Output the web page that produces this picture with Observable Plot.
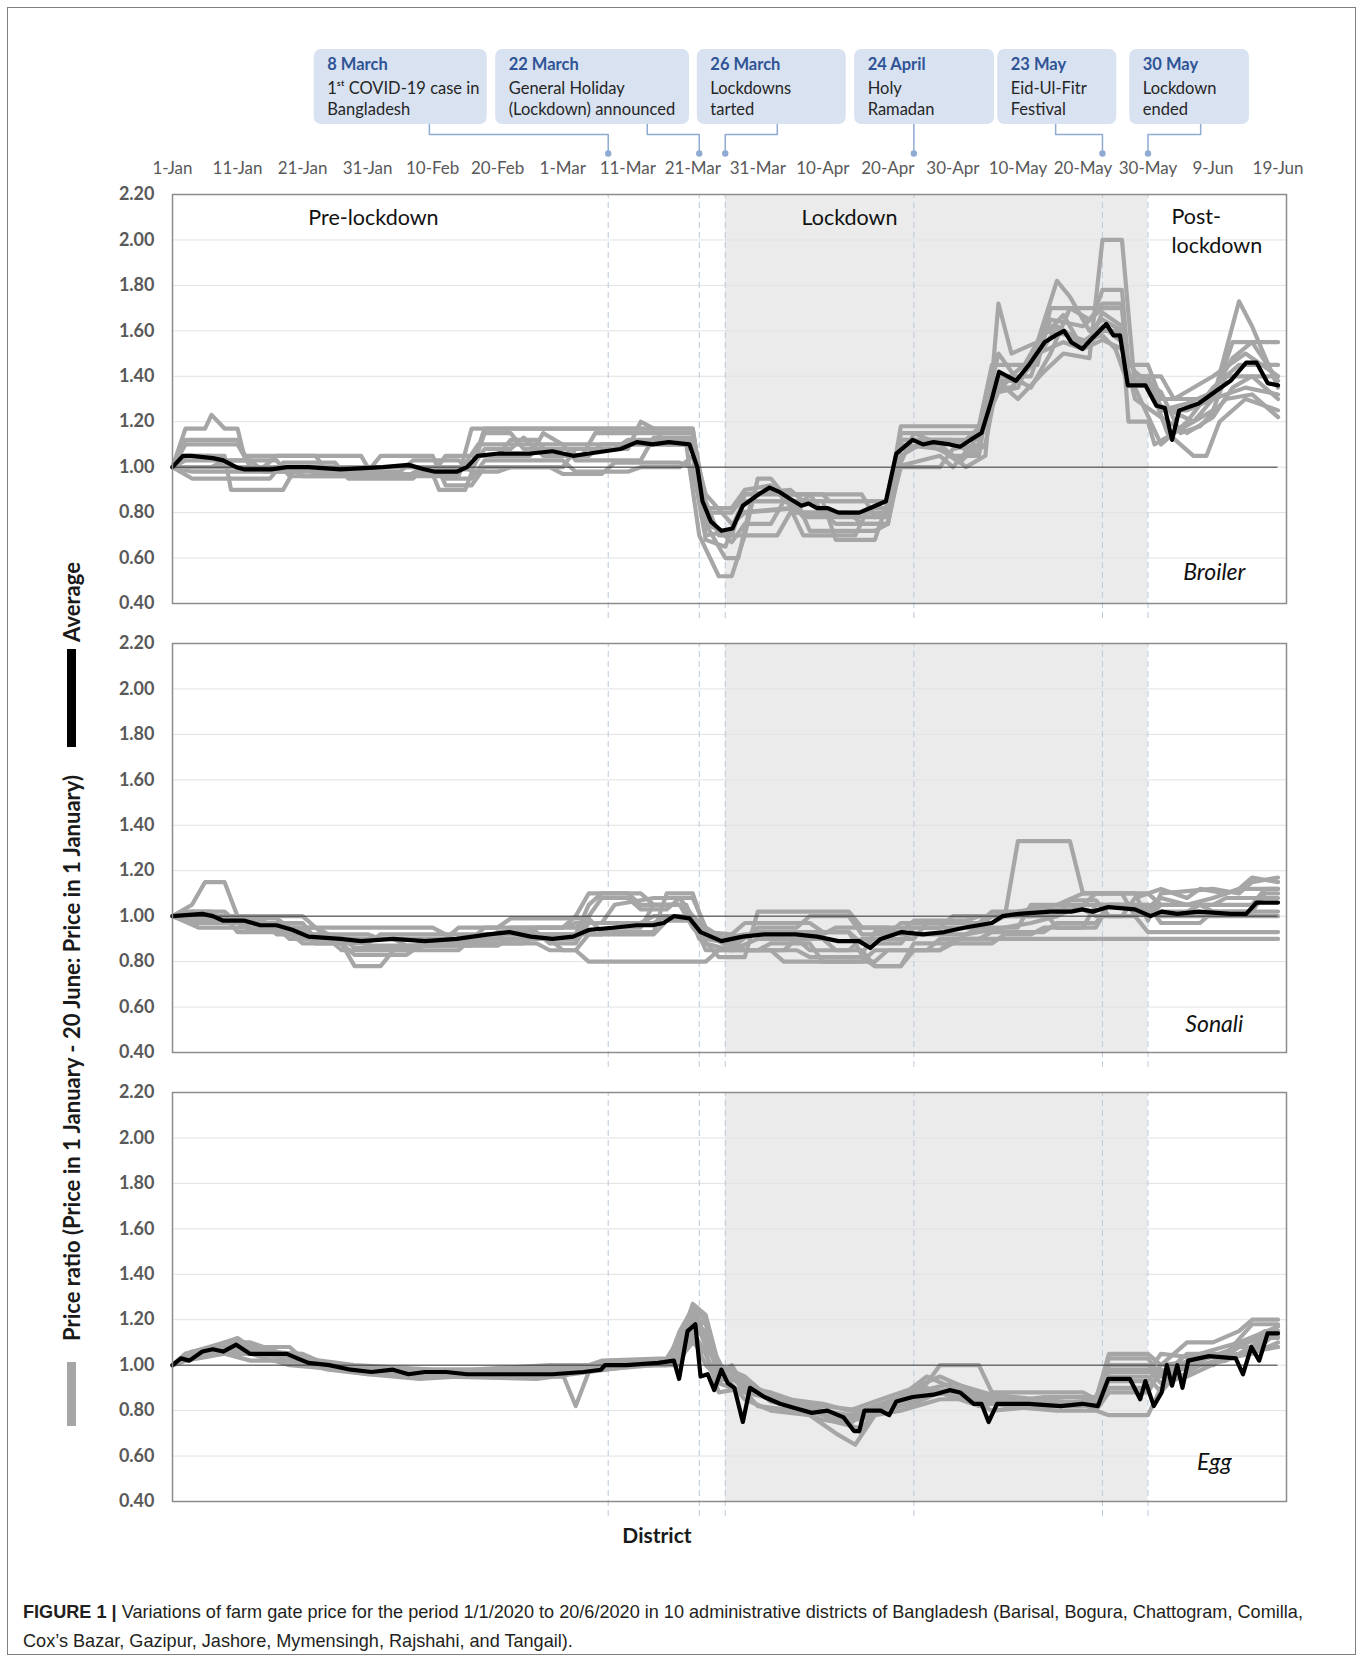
<!DOCTYPE html>
<html><head><meta charset="utf-8">
<script src="https://cdn.jsdelivr.net/npm/d3@7"></script>
<script src="https://cdn.jsdelivr.net/npm/@observablehq/plot@0.6"></script>
<style>
body{margin:0;background:#fff;}
#fig{position:relative;width:1362px;height:1659px;background:#fff;font-family:Lato,sans-serif;overflow:hidden}
#border{position:absolute;left:7px;top:7px;width:1349px;height:1648px;border:1px solid #7f7f7f;box-sizing:border-box}
.abs{position:absolute;left:0}
#xtitle{position:absolute;left:0;width:1314px;top:1522px;text-align:center;font:bold 21px Lato,sans-serif;color:#1a1a1a}
#caption{position:absolute;left:23px;top:1597px;font-family:"Liberation Sans",Arial,sans-serif;font-size:19px;line-height:29px;color:#231f20;white-space:nowrap;transform:scaleX(0.953);transform-origin:0 0}
</style></head><body>
<div id="fig">
<div id="border"></div>
<div id="ann" class="abs" style="top:0"></div>
<div id="p0" class="abs" style="top:192px"></div>
<div id="p1" class="abs" style="top:641px"></div>
<div id="p2" class="abs" style="top:1090px"></div>
<div id="ylab" class="abs" style="top:0"></div>
<div id="xtitle">District</div>
<div id="caption"><b>FIGURE 1 |</b> Variations of farm gate price for the period 1/1/2020 to 20/6/2020 in 10 administrative districts of Bangladesh (Barisal, Bogura, Chattogram, Comilla,<br>Cox’s Bazar, Gazipur, Jashore, Mymensingh, Rajshahi, and Tangail).</div>
</div>
<script>
// ---------- DATA ----------
const districtNames = ["Barisal","Bogura","Chattogram","Comilla","Cox's Bazar","Gazipur","Jashore","Mymensingh","Rajshahi","Tangail"];
const panelNames = ["Broiler","Sonali","Egg"];
const tickDays = [0,10,20,30,40,50,60,70,80,90,100,110,120,130,140,150,160,170];
const yTicks = [0.4,0.6,0.8,1.0,1.2,1.4,1.6,1.8,2.0,2.2];
const lockdownStartDay = 85, lockdownEndDay = 150;
const events = [
  {day:67,  title:"8 March",  text:"1ˢᵗ COVID-19 case in\nBangladesh"},
  {day:81,  title:"22 March", text:"General Holiday\n(Lockdown) announced"},
  {day:85,  title:"26 March", text:"Lockdowns\ntarted"},
  {day:114, title:"24 April", text:"Holy\nRamadan"},
  {day:143, title:"23 May",   text:"Eid-Ul-Fitr\nFestival"},
  {day:150, title:"30 May",   text:"Lockdown\nended"}
];
const phaseLabels = ["Pre-lockdown","Lockdown","Post-\nlockdown"];

// [day offset from 1 January, price ratio]
const broilerAverage = [[0,1.00],[1.6,1.05],[2.9,1.05],[6.2,1.04],[7.8,1.03],[9.8,1.00],[11.1,0.99],[15.2,0.99],[17.6,1.00],[20.9,1.00],[25.8,0.99],[32.3,1.00],[36.3,1.01],[38.8,0.99],[40.4,0.98],[43.7,0.98],[45.3,1.00],[46.9,1.05],[50.2,1.06],[55.1,1.06],[58.4,1.07],[61.6,1.05],[64.1,1.06],[66.5,1.07],[68.9,1.08],[71.4,1.11],[73.8,1.10],[76.3,1.11],[79.5,1.10],[80.7,1.00],[81.5,0.85],[82.8,0.76],[84.4,0.72],[86.1,0.73],[87.7,0.83],[90.1,0.88],[91.8,0.91],[93.4,0.89],[95.0,0.86],[96.7,0.83],[97.8,0.84],[99.1,0.82],[100.7,0.82],[102.4,0.80],[105.6,0.80],[107.3,0.82],[109.7,0.85],[111.3,1.06],[113.8,1.12],[115.4,1.10],[117.0,1.11],[119.5,1.10],[121.1,1.09],[122.7,1.12],[124.4,1.15],[126.0,1.30],[127.1,1.42],[129.7,1.38],[131.7,1.45],[134.1,1.55],[135.8,1.58],[137.1,1.60],[138.2,1.55],[139.9,1.52],[141.5,1.57],[143.6,1.63],[144.7,1.58],[145.7,1.58],[146.9,1.36],[149.6,1.36],[151.3,1.27],[152.6,1.26],[153.7,1.12],[154.8,1.25],[157.8,1.28],[160.2,1.33],[162.7,1.38],[165.1,1.46],[166.7,1.46],[168.4,1.37],[170.0,1.36]];
const broilerDistricts = [
 [[0,1],[2,1.17],[5,1.17],[6,1.23],[8,1.17],[10,1.17],[11,1.05],[29,1.05],[30,1.00],[46,1.00],[48,1.17],[80,1.17],[82,0.80],[86,0.80],[88,0.88],[100,0.88],[101,0.85],[110,0.85],[112,1.18],[124,1.18],[126,1.45],[133,1.45],[135,1.70],[142,1.70],[143,1.78],[146,1.78],[147,1.45],[150,1.45],[152,1.30],[160,1.30],[163,1.55],[170,1.55]],
 [[0,1],[2,1.12],[10,1.12],[12,1.00],[20,1.00],[22,0.97],[40,0.97],[41,0.90],[45,0.90],[47,1.05],[55,1.05],[57,1.15],[60,1.10],[79,1.10],[81,0.70],[84,0.52],[86,0.52],[88,0.70],[93,0.70],[95,0.80],[104,0.80],[106,0.75],[110,0.75],[112,1.05],[115,1.10],[118,1.10],[122,1.00],[125,1.05],[127,1.72],[129,1.50],[133,1.55],[136,1.82],[138,1.75],[141,1.60],[143,1.65],[146,1.60],[147,1.20],[150,1.20],[151,1.10],[160,1.25],[162,1.40],[170,1.40]],
 [[0,1],[2,1.05],[8,1.05],[9,0.90],[17,0.90],[19,1.00],[30,1.00],[32,0.97],[44,0.97],[47,1.10],[60,1.10],[62,1.03],[72,1.03],[74,1.13],[80,1.13],[82,0.75],[85,0.60],[87,0.60],[89,0.85],[96,0.85],[98,0.72],[108,0.72],[110,0.75],[112,1.12],[120,1.12],[123,1.05],[125,1.10],[127,1.40],[132,1.40],[135,1.65],[140,1.62],[143,1.70],[146,1.70],[147,1.38],[150,1.38],[153,1.15],[157,1.05],[159,1.05],[161,1.20],[165,1.30],[170,1.25]],
 [[0,1],[3,0.95],[15,0.95],[17,1.02],[25,1.02],[27,0.95],[37,0.95],[39,1.00],[46,1.00],[48,1.08],[52,1.08],[54,1.13],[57,1.05],[63,1.05],[65,1.15],[80,1.15],[82,0.85],[84,0.70],[88,0.70],[90,0.95],[92,0.95],[94,0.88],[98,0.88],[100,0.80],[110,0.80],[112,1.15],[124,1.15],[126,1.35],[129,1.35],[131,1.42],[134,1.60],[137,1.60],[139,1.55],[143,1.58],[145,1.52],[147,1.36],[150,1.36],[152,1.27],[157,1.20],[160,1.30],[164,1.73],[166,1.62],[170,1.35]],
 [[0,1],[2,1.03],[12,1.03],[14,0.98],[30,0.98],[32,1.05],[40,1.05],[42,0.92],[46,0.92],[48,1.00],[58,1.00],[60,0.97],[66,0.97],[68,1.02],[78,1.02],[80,1.00],[82,0.68],[85,0.65],[87,0.80],[95,0.82],[97,0.70],[105,0.70],[107,0.82],[110,0.82],[111,1.00],[118,1.05],[120,1.00],[123,1.10],[125,1.25],[127,1.50],[130,1.38],[133,1.48],[136,1.62],[140,1.55],[143,1.62],[146,1.55],[148,1.30],[152,1.22],[156,1.15],[160,1.22],[163,1.35],[166,1.40],[170,1.30]],
 [[0,1],[2,1.10],[10,1.10],[12,1.00],[24,1.00],[26,0.98],[35,0.98],[37,1.03],[44,1.03],[46,0.98],[50,0.98],[52,1.00],[60,1.00],[62,1.08],[70,1.08],[72,1.20],[74,1.17],[80,1.17],[82,0.78],[86,0.67],[88,0.75],[92,0.75],[94,0.85],[100,0.85],[102,0.68],[108,0.68],[110,0.85],[112,1.08],[116,1.10],[120,1.05],[124,1.05],[126,1.40],[130,1.30],[134,1.42],[137,1.50],[141,1.48],[143,2.00],[146,2.00],[148,1.35],[152,1.10],[156,1.20],[160,1.35],[164,1.45],[170,1.45]],
 [[0,1],[2,1.00],[14,1.00],[16,1.05],[22,1.05],[24,0.97],[40,0.97],[42,1.05],[50,1.05],[52,1.12],[56,1.12],[58,1.05],[64,1.05],[66,1.10],[80,1.10],[82,0.82],[86,0.82],[88,0.90],[92,0.92],[96,0.80],[100,0.80],[102,0.75],[110,0.75],[112,1.02],[114,1.15],[118,1.10],[122,1.12],[125,1.20],[127,1.33],[130,1.35],[133,1.55],[137,1.67],[140,1.52],[143,1.60],[146,1.60],[147,1.40],[152,1.40],[154,1.30],[160,1.40],[165,1.50],[170,1.40]],
 [[0,1],[3,0.98],[20,0.98],[22,1.00],[40,1.00],[42,0.95],[46,0.95],[48,1.03],[60,1.03],[62,0.98],[70,0.98],[72,1.00],[78,1.00],[80,1.05],[82,0.70],[86,0.72],[88,0.85],[95,0.85],[97,0.78],[108,0.78],[110,0.80],[112,1.10],[118,1.08],[121,1.02],[124,1.10],[126,1.30],[129,1.40],[132,1.35],[135,1.50],[138,1.70],[141,1.65],[143,1.72],[146,1.72],[147,1.40],[150,1.40],[152,1.25],[156,1.25],[160,1.30],[165,1.35],[170,1.32]],
 [[0,1],[2,1.05],[6,1.05],[8,1.00],[18,1.00],[20,0.96],[36,0.96],[38,0.99],[46,0.99],[48,1.15],[52,1.15],[54,1.08],[68,1.08],[70,1.12],[80,1.12],[82,0.75],[86,0.70],[88,0.88],[95,0.90],[97,0.85],[110,0.85],[112,1.12],[124,1.12],[126,1.38],[130,1.38],[133,1.50],[137,1.55],[140,1.52],[143,1.56],[146,1.52],[148,1.42],[152,1.33],[155,1.15],[158,1.18],[162,1.30],[166,1.32],[170,1.22]],
 [[0,1],[2,1.00],[6,1.00],[8,1.03],[16,1.03],[18,0.96],[44,0.96],[46,1.17],[74,1.17],[76,1.10],[80,1.10],[82,0.88],[86,0.75],[88,0.80],[96,0.82],[98,0.88],[106,0.88],[108,0.78],[110,0.78],[112,1.00],[118,1.00],[120,1.08],[124,1.10],[126,1.30],[128,1.38],[131,1.45],[134,1.60],[138,1.58],[141,1.55],[143,1.68],[146,1.62],[147,1.36],[150,1.36],[152,1.25],[156,1.28],[160,1.33],[163,1.48],[166,1.55],[170,1.38]]
];

const sonaliAverage = [[0,1.00],[4.6,1.01],[6.2,1.00],[7.8,0.98],[11.1,0.98],[13.5,0.96],[16.0,0.96],[18.4,0.94],[20.9,0.91],[25.8,0.90],[29.0,0.89],[33.9,0.90],[38.8,0.89],[43.7,0.90],[48.6,0.92],[51.8,0.93],[55.1,0.91],[58.4,0.90],[61.6,0.91],[64.1,0.94],[68.1,0.95],[71.4,0.96],[73.8,0.96],[75.5,0.97],[77.1,1.00],[79.5,0.99],[81.2,0.93],[84.4,0.89],[87.7,0.91],[91.0,0.92],[95.8,0.92],[99.1,0.91],[102.4,0.89],[105.6,0.89],[107.3,0.86],[108.9,0.90],[112.1,0.93],[115.4,0.92],[118.7,0.93],[121.9,0.95],[126.0,0.97],[127.6,1.00],[130.1,1.01],[135.0,1.02],[138.2,1.02],[139.9,1.03],[141.5,1.02],[143.9,1.04],[148.0,1.03],[150.4,1.00],[152.1,1.02],[154.5,1.01],[157.8,1.02],[162.7,1.01],[165.1,1.01],[166.7,1.06],[170.0,1.06]];
const sonaliDistricts = [
 [[0,1],[3,1.05],[5,1.15],[8,1.15],[10,1.00],[20,1.00],[22,0.95],[40,0.95],[42,0.92],[62,0.92],[64,1.05],[66,1.10],[72,1.10],[74,1.05],[78,1.05],[80,1.00],[84,0.90],[88,0.92],[100,0.92],[102,0.95],[118,0.95],[120,1.00],[128,1.00],[130,1.33],[138,1.33],[140,1.10],[150,1.10],[152,1.05],[160,1.05],[162,1.08],[170,1.08]],
 [[0,1],[4,0.95],[16,0.95],[18,0.90],[24,0.90],[26,0.85],[36,0.85],[38,0.88],[56,0.88],[58,0.85],[62,0.85],[64,0.80],[82,0.80],[84,0.85],[92,0.85],[94,0.80],[108,0.80],[110,0.85],[118,0.85],[120,0.90],[170,0.90]],
 [[0,1],[3,1.02],[8,1.02],[10,0.97],[16,0.97],[18,0.92],[24,0.92],[26,0.88],[28,0.78],[32,0.78],[34,0.85],[44,0.85],[46,0.90],[62,0.90],[64,1.00],[66,1.08],[70,1.08],[72,1.03],[76,1.03],[78,1.08],[80,1.08],[82,0.95],[86,0.88],[90,0.93],[104,0.93],[106,0.88],[112,0.88],[114,0.95],[124,0.95],[126,1.00],[136,1.05],[140,1.10],[146,1.10],[148,1.00],[152,1.08],[156,1.05],[160,1.08],[164,1.12],[166,1.17],[170,1.15]],
 [[0,1],[2,1.00],[12,1.00],[14,0.97],[20,0.97],[22,0.90],[28,0.90],[30,0.87],[40,0.87],[42,0.90],[50,0.90],[52,0.95],[60,0.95],[62,1.00],[64,1.10],[70,1.10],[72,1.05],[78,1.05],[80,0.95],[84,0.82],[88,0.82],[90,1.02],[104,1.02],[106,0.95],[110,0.95],[112,0.92],[122,0.92],[124,0.95],[130,0.95],[132,1.05],[140,1.05],[142,1.10],[148,1.10],[150,0.98],[152,1.10],[160,1.12],[164,1.10],[166,1.15],[170,1.17]],
 [[0,1],[3,0.97],[10,0.97],[12,0.94],[20,0.94],[22,0.88],[30,0.88],[32,0.92],[42,0.92],[44,0.88],[54,0.88],[56,0.92],[66,0.92],[68,0.95],[72,0.95],[74,1.05],[79,1.05],[81,0.90],[86,0.90],[88,0.85],[94,0.85],[96,0.90],[100,0.90],[102,0.85],[106,0.85],[108,0.78],[112,0.78],[114,0.88],[120,0.88],[122,0.92],[128,0.95],[132,0.97],[136,1.00],[140,1.05],[146,1.05],[148,1.02],[150,1.00],[152,1.05],[158,1.05],[160,1.02],[166,1.02],[168,1.10],[170,1.10]],
 [[0,1],[2,1.02],[6,1.02],[8,0.98],[14,0.98],[16,0.92],[22,0.92],[24,0.90],[34,0.90],[36,0.87],[50,0.87],[52,0.90],[58,0.90],[60,0.85],[62,0.85],[64,0.92],[74,0.92],[76,0.98],[80,0.98],[82,0.85],[90,0.85],[92,0.88],[98,0.88],[100,0.80],[106,0.80],[108,0.85],[116,0.85],[118,0.90],[124,0.90],[126,0.93],[134,0.93],[136,0.97],[142,0.97],[144,1.05],[150,1.05],[152,1.00],[170,1.00]],
 [[0,1],[2,0.98],[12,0.98],[14,0.95],[22,0.95],[24,0.92],[30,0.92],[32,0.90],[46,0.90],[48,0.95],[60,0.95],[62,0.97],[66,0.97],[68,1.05],[74,1.08],[78,1.08],[80,1.00],[82,0.88],[86,0.85],[90,0.90],[96,0.90],[98,0.85],[104,0.85],[106,0.90],[114,0.90],[116,0.97],[126,0.97],[128,1.00],[136,1.00],[138,1.07],[142,1.07],[144,1.00],[148,1.00],[150,0.93],[170,0.93]],
 [[0,1],[4,0.98],[10,0.98],[12,0.95],[18,0.95],[20,0.91],[26,0.91],[28,0.86],[38,0.86],[40,0.89],[48,0.89],[50,0.93],[56,0.93],[58,0.88],[62,0.88],[64,0.97],[74,0.97],[76,1.00],[80,1.00],[82,0.92],[86,0.86],[90,0.95],[96,0.95],[98,1.00],[104,1.00],[106,0.92],[110,0.92],[112,0.97],[124,0.97],[126,1.02],[134,1.02],[136,0.95],[140,0.95],[142,1.05],[148,1.05],[150,1.02],[156,1.02],[158,1.05],[166,1.05],[168,1.12],[170,1.12]],
 [[0,1],[2,0.99],[16,0.99],[18,0.95],[22,0.95],[24,0.90],[42,0.90],[44,0.95],[50,0.95],[52,0.99],[64,0.99],[66,0.93],[74,0.93],[76,1.10],[80,1.10],[82,0.93],[86,0.92],[88,0.97],[98,0.97],[100,0.93],[104,0.93],[106,0.83],[108,0.93],[112,0.93],[114,0.98],[122,0.98],[124,1.00],[132,1.00],[134,1.03],[140,1.03],[142,1.00],[146,1.00],[148,1.08],[152,1.12],[156,1.08],[158,1.12],[162,1.10],[164,1.12],[170,1.12]],
 [[0,1],[3,1.00],[8,1.00],[10,0.93],[18,0.93],[20,0.88],[26,0.88],[28,0.83],[36,0.83],[38,0.87],[46,0.87],[48,0.92],[54,0.92],[56,0.95],[62,0.95],[64,0.97],[72,0.97],[74,1.00],[80,1.00],[82,0.90],[86,0.88],[88,0.85],[96,0.85],[98,0.82],[106,0.82],[108,0.78],[112,0.78],[114,0.85],[118,0.85],[120,0.88],[126,0.88],[128,0.92],[132,0.92],[134,0.95],[142,0.95],[144,1.05],[150,1.05],[152,0.97],[158,0.97],[160,1.02],[170,1.02]]
];

const eggAverage = [[0,1.00],[1.3,1.03],[2.6,1.02],[4.6,1.06],[6.2,1.07],[7.8,1.06],[9.8,1.09],[11.9,1.05],[17.6,1.05],[19.2,1.03],[20.9,1.01],[24.1,1.00],[27.4,0.98],[30.6,0.97],[33.9,0.98],[36.3,0.96],[38.8,0.97],[42.1,0.97],[45.3,0.96],[51.8,0.96],[58.4,0.96],[63.2,0.97],[65.9,0.98],[66.5,1.00],[69.8,1.00],[74.7,1.01],[77.1,1.02],[77.9,0.94],[79.2,1.15],[80.4,1.18],[81.2,0.95],[82.3,0.96],[83.3,0.89],[84.4,0.98],[85.4,0.92],[86.4,0.90],[87.7,0.75],[88.8,0.90],[91.0,0.86],[93.4,0.83],[95.8,0.81],[98.3,0.79],[100.7,0.80],[103.2,0.77],[104.8,0.71],[105.6,0.71],[106.4,0.80],[108.9,0.80],[110.2,0.78],[111.3,0.84],[113.8,0.86],[117.0,0.87],[119.5,0.89],[121.1,0.88],[123.2,0.83],[124.4,0.83],[125.5,0.75],[126.8,0.83],[131.7,0.83],[136.6,0.82],[139.9,0.83],[142.3,0.82],[143.9,0.94],[147.2,0.94],[148.8,0.85],[149.6,0.93],[150.9,0.82],[152.1,0.88],[152.9,1.00],[153.7,0.91],[154.5,1.00],[155.3,0.90],[156.2,1.02],[159.4,1.04],[163.5,1.03],[164.6,0.96],[165.9,1.08],[167.1,1.02],[168.4,1.14],[170.0,1.14]];
const eggDistricts = [
 [[0,1],[2,1.05],[6,1.08],[10,1.12],[12,1.08],[18,1.08],[20,1.03],[28,1.00],[40,0.98],[60,0.98],[62,0.99],[66,1.00],[76,1.02],[78,1.10],[80,1.27],[82,1.22],[84,1.00],[88,0.95],[92,0.85],[100,0.80],[104,0.78],[108,0.82],[112,0.85],[116,0.92],[118,1.00],[124,1.00],[126,0.88],[140,0.88],[142,0.85],[144,1.05],[150,1.05],[152,1.00],[156,1.10],[160,1.10],[164,1.15],[166,1.20],[170,1.20]],
 [[0,1],[2,1.03],[8,1.06],[11,1.10],[14,1.06],[20,1.05],[24,1.00],[34,0.97],[44,0.97],[60,0.96],[62,0.82],[64,0.97],[68,1.00],[76,1.00],[78,1.15],[80,1.25],[82,1.20],[84,0.95],[86,1.00],[88,0.90],[92,0.88],[98,0.82],[102,0.75],[106,0.72],[108,0.80],[112,0.82],[116,0.87],[120,0.90],[124,0.85],[130,0.82],[140,0.82],[142,0.85],[144,1.00],[150,1.00],[152,0.95],[156,1.05],[162,1.05],[166,1.18],[170,1.18]],
 [[0,1],[2,1.02],[6,1.05],[12,1.05],[18,1.00],[26,0.98],[36,0.95],[50,0.95],[60,0.95],[64,1.00],[74,1.00],[78,1.05],[80,1.20],[82,1.10],[84,0.98],[88,0.85],[92,0.80],[98,0.78],[102,0.70],[105,0.65],[108,0.78],[112,0.80],[118,0.85],[124,0.85],[128,0.82],[136,0.80],[142,0.80],[144,0.78],[150,0.78],[152,0.90],[158,1.00],[162,1.02],[168,1.10],[170,1.15]],
 [[0,1],[3,1.04],[8,1.08],[12,1.08],[16,1.04],[22,1.02],[30,0.98],[40,0.96],[56,0.96],[62,0.98],[70,1.00],[78,1.03],[80,1.10],[82,1.05],[84,0.92],[88,0.88],[94,0.84],[100,0.82],[106,0.80],[110,0.82],[116,0.95],[120,0.90],[126,0.85],[134,0.85],[142,0.82],[144,0.95],[150,0.95],[152,0.88],[156,1.02],[160,1.00],[164,1.08],[170,1.08]],
 [[0,1],[2,1.04],[6,1.07],[10,1.10],[14,1.05],[20,1.03],[26,1.00],[34,0.98],[46,0.98],[58,1.00],[64,1.00],[72,1.02],[78,1.02],[80,1.18],[82,1.15],[84,0.93],[86,0.95],[90,0.82],[96,0.80],[100,0.76],[104,0.74],[108,0.82],[114,0.88],[120,0.92],[126,0.87],[136,0.84],[142,0.84],[144,0.97],[150,0.97],[152,1.05],[158,1.03],[164,1.05],[168,1.12],[170,1.12]],
 [[0,1],[3,1.06],[9,1.09],[12,1.07],[18,1.05],[22,1.01],[32,0.97],[42,0.95],[56,0.94],[64,0.97],[72,1.00],[76,1.00],[78,1.05],[80,1.26],[82,1.12],[84,1.02],[86,0.90],[90,0.88],[96,0.83],[102,0.78],[106,0.70],[108,0.80],[114,0.86],[120,0.88],[126,0.80],[134,0.82],[142,0.85],[144,1.03],[150,1.03],[152,0.95],[158,1.05],[164,1.10],[170,1.17]],
 [[0,1],[2,1.02],[8,1.05],[12,1.02],[18,1.02],[24,0.98],[30,0.96],[44,0.96],[52,0.98],[62,0.99],[70,1.01],[76,1.01],[78,1.08],[80,1.22],[82,1.18],[84,0.97],[88,0.92],[94,0.85],[98,0.80],[104,0.76],[108,0.80],[114,0.83],[118,0.88],[124,0.82],[130,0.85],[140,0.83],[142,0.80],[144,0.88],[150,0.88],[152,0.98],[156,0.95],[162,1.03],[166,1.05],[170,1.10]],
 [[0,1],[2,1.05],[8,1.10],[12,1.10],[16,1.06],[22,1.00],[30,0.96],[38,0.94],[50,0.96],[60,0.97],[66,0.98],[74,1.00],[78,1.00],[80,1.15],[82,1.05],[84,0.88],[88,0.90],[92,0.86],[100,0.83],[104,0.80],[108,0.84],[114,0.90],[118,0.95],[122,0.90],[128,0.84],[136,0.82],[142,0.83],[144,0.93],[150,0.93],[152,1.00],[158,1.02],[164,1.08],[168,1.15],[170,1.15]],
 [[0,1],[2,1.03],[6,1.06],[10,1.08],[14,1.05],[20,1.01],[28,0.98],[40,0.97],[54,0.98],[62,0.98],[66,1.02],[76,1.03],[78,1.12],[80,1.24],[82,1.08],[84,0.99],[88,0.94],[92,0.84],[98,0.81],[102,0.77],[106,0.76],[110,0.84],[116,0.90],[120,0.86],[126,0.83],[134,0.86],[142,0.86],[144,0.98],[150,0.98],[152,0.92],[156,1.00],[162,1.06],[168,1.13],[170,1.13]],
 [[0,1],[3,1.03],[8,1.07],[12,1.06],[18,1.04],[24,0.99],[32,0.97],[46,0.97],[58,0.97],[64,0.99],[72,1.01],[78,1.03],[80,1.12],[82,1.00],[84,0.94],[88,0.93],[92,0.84],[98,0.80],[102,0.76],[106,0.78],[110,0.83],[116,0.89],[122,0.88],[128,0.84],[136,0.83],[142,0.82],[144,0.90],[150,0.90],[152,0.96],[158,1.00],[164,1.05],[170,1.08]]
];

// ---------- LAYOUT (annotation placement, not data) ----------
const boxLayout = [ // x extents of callout boxes and elbow position, in days
  {from:21.8, to:48.4, elbow:39.5},
  {from:49.7, to:79.5, elbow:73.0},
  {from:80.7, to:103.6, elbow:93.0},
  {from:104.9, to:126.4, elbow:114},
  {from:126.9, to:145.2, elbow:135.8},
  {from:147.2, to:165.6, elbow:158.1}
];
const phaseLayout = [
  {day:30.9, dy:21, anchor:"middle"},
  {day:104.1, dy:21, anchor:"middle"},
  {day:153.6, dy:35, anchor:"start"}
];
const panelLabelDy = [-31, -28, -39];

// ---------- HELPERS ----------
const START = Date.UTC(2020,0,1), DAY = 86400000;
const toDate = d => new Date(START + d*DAY);
const xDomain = [toDate(0), toDate(171.3)];
const fmt = d3.utcFormat("%-d-%b");
const W = 1362, ML = 172, MR = 76;
const FONT = "Lato, sans-serif";

// ---------- ANNOTATION STRIP ----------
const boxes = events.map((e,i)=>({...e, x1:toDate(boxLayout[i].from), x2:toDate(boxLayout[i].to)}));
const connectors = events.flatMap((e,i)=>{
  const el = boxLayout[i].elbow;
  return [{id:i,x:toDate(el),y:124},{id:i,x:toDate(el),y:134},{id:i,x:toDate(e.day),y:134},{id:i,x:toDate(e.day),y:153}];
});
const ann = Plot.plot({
  width:W, height:185, marginLeft:ML, marginRight:MR, marginTop:0, marginBottom:0,
  x:{type:"utc", domain:xDomain, axis:null},
  y:{domain:[0,185], range:[0,185], axis:null},
  style:{fontFamily:FONT, background:"transparent", overflow:"visible"},
  marks:[
    Plot.rect(boxes, {x1:"x1", x2:"x2", y1:49, y2:124, fill:"#d9e2f1", rx:7}),
    Plot.line(connectors, {x:"x", y:"y", z:"id", stroke:"#8faad3", strokeWidth:1.5, curve:"linear"}),
    Plot.dot(events, {x:d=>toDate(d.day), y:153, r:3.2, fill:"#8faad3", stroke:null}),
    Plot.text(boxes, {x:"x1", y:64, text:"title", dx:13, textAnchor:"start", fontWeight:"bold", fill:"#2f5496", fontSize:16.5}),
    Plot.text(boxes, {x:"x1", y:97, text:"text", dx:13, textAnchor:"start", fill:"#262626", fontSize:16.5, lineHeight:1.3}),
    Plot.text(tickDays, {x:d=>toDate(d), y:168, text:d=>fmt(toDate(d)), fill:"#595959", fontSize:17})
  ]
});
document.getElementById("ann").appendChild(ann);

// ---------- PANELS ----------
function phaseMarks(){
  return phaseLabels.map((t,i)=>Plot.text([t], {x:toDate(phaseLayout[i].day), frameAnchor:"top", dy:phaseLayout[i].dy, lineAnchor:"middle", text:d=>d, fontSize:21.5, fill:"#111", lineHeight:1.36, textAnchor:phaseLayout[i].anchor}));
}
function buildPanel(name, avg, districts, showPhases, ext, labelDy){
  const rows = districts.flatMap((s,i)=>s.map(([d,v])=>({date:toDate(d), value:v, district:districtNames[i]})));
  const avgRows = avg.map(([d,v])=>({date:toDate(d), value:v}));
  const marks = [
    Plot.rect([name], {x1:toDate(lockdownStartDay), x2:toDate(lockdownEndDay), y1:0.4, y2:2.2, fill:"#ebebeb"}),
    Plot.gridY(yTicks.filter(v=>v>0.4 && v<2.2), {stroke:"#e2e2e2", strokeOpacity:1, strokeWidth:1}),
    Plot.ruleX(events, {x:d=>toDate(d.day), y1:0.4-ext, y2:2.2, stroke:"#b9cadb", strokeWidth:1, strokeDasharray:"6,4"}),
    Plot.line(rows, {x:"date", y:"value", z:"district", stroke:"#a6a6a6", strokeWidth:4.2, strokeLinejoin:"round"}),
    Plot.ruleY([1], {x1:toDate(0), x2:toDate(170), stroke:"#333", strokeWidth:1}),
    Plot.line(avgRows, {x:"date", y:"value", stroke:"#000", strokeWidth:4.2, strokeLinejoin:"round"}),
    Plot.frame({stroke:"#8c8c8c", strokeWidth:1.5}),
    Plot.axisY(yTicks, {tickSize:0, tickPadding:18, tickFormat:d=>d.toFixed(2), fontSize:18, fontWeight:"bold", fill:"#595959", label:null}),
    Plot.text([name], {x:toDate(160.2), frameAnchor:"bottom", dy:labelDy, lineAnchor:"middle", fontStyle:"italic", fontSize:23, fill:"#111"})
  ];
  if (showPhases) marks.push(...phaseMarks());
  return Plot.plot({
    width:W, height:449, marginLeft:ML, marginRight:MR, marginTop:2, marginBottom:38,
    x:{type:"utc", domain:xDomain, axis:null},
    y:{domain:[0.4,2.2], axis:null},
    style:{fontFamily:FONT, background:"transparent", overflow:"visible"},
    marks
  });
}
const series = [[broilerAverage, broilerDistricts],[sonaliAverage, sonaliDistricts],[eggAverage, eggDistricts]];
panelNames.forEach((n,i)=>{
  document.getElementById("p"+i).appendChild(buildPanel(n, series[i][0], series[i][1], i===0, 0.066, panelLabelDy[i]));
});

// ---------- Y TITLE WITH LEGEND ----------
const svg = d3.select("#ylab").append("svg").attr("width",120).attr("height",1659).style("overflow","visible");
svg.append("rect").attr("x",67).attr("y",1362).attr("width",9).attr("height",64).attr("fill","#a6a6a6");
svg.append("rect").attr("x",67).attr("y",649).attr("width",9).attr("height",98).attr("fill","#000");
svg.append("text").attr("transform","translate(80,1058) rotate(-90)").attr("text-anchor","middle")
  .style("font","bold 22px Lato, sans-serif").attr("fill","#1a1a1a").text("Price ratio (Price in 1 January - 20 June: Price in 1 January)");
svg.append("text").attr("transform","translate(80,602) rotate(-90)").attr("text-anchor","middle")
  .style("font","bold 22px Lato, sans-serif").attr("fill","#1a1a1a").text("Average");
</script>
</body></html>
